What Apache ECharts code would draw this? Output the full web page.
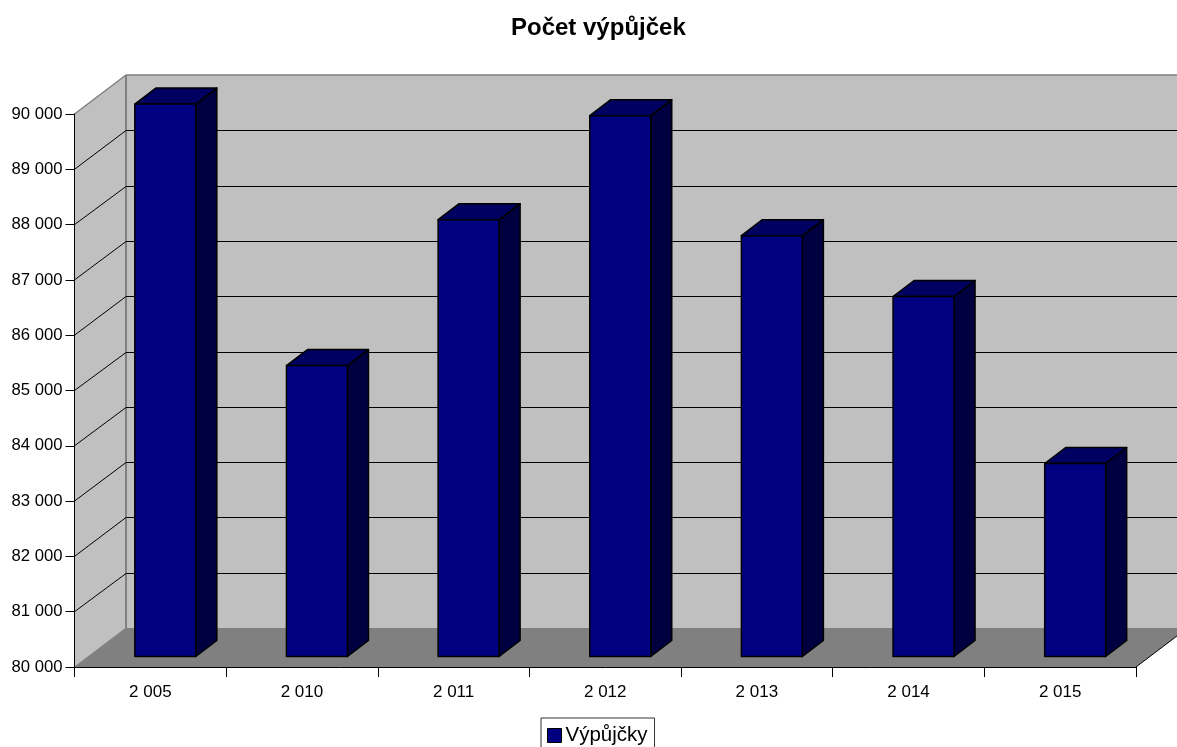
<!DOCTYPE html>
<html>
<head>
<meta charset="utf-8">
<style>html,body{margin:0;padding:0;background:#fff}#c{width:1177px;height:747px}</style>
<script src="https://cdn.jsdelivr.net/npm/echarts@6/dist/echarts.min.js"></script>
</head>
<body>
<div id="c"></div>
<script>
const categories = ['2 005','2 010','2 011','2 012','2 013','2 014','2 015'];
const loans = [89990, 85260, 87900, 89780, 87610, 86510, 83490];
const gridValues = [81000,82000,83000,84000,85000,86000,87000,88000,89000];
const yMin = 80000, yMax = 90000, yStep = 1000;
const seriesName = 'Výpůjčky';
const titleText = 'Počet výpůjček';

// oblique-projection constants (pixels)
const wallDX = 51.5, wallDY = -39;
const barInsetX = 15, barInsetY = -10.5, barDX = 21, barDY = -16, barW = 61;

const chart = echarts.init(document.getElementById('c'), null, {renderer:'canvas'});
const poly = (pts, fill, stroke, lw) => ({type:'polygon', shape:{points:pts},
  style:{fill:fill, stroke:stroke||null, lineWidth:lw||0, lineJoin:'round'}, silent:true});
const line = (a, b, stroke, lw) => ({type:'line',
  shape:{x1:a[0],y1:a[1],x2:b[0],y2:b[1]}, style:{stroke:stroke,lineWidth:lw||1,fill:null}, silent:true});

function renderWalls(params, api){
  const cs = params.coordSys;
  const x0 = cs.x, x1 = cs.x + cs.width;
  const yT = api.coord([0,yMax])[1], yB = api.coord([0,yMin])[1];
  const d = (p)=>[p[0]+wallDX,p[1]+wallDY];
  return {type:'group', children:[
    poly([d([x0,yT]),d([x1,yT]),d([x1,yB]),d([x0,yB])],'#c0c0c0'),
    poly([[x0,yT],d([x0,yT]),d([x0,yB]),[x0,yB]],'#c0c0c0'),
    poly([[x0,yB],[x1,yB],d([x1,yB]),d([x0,yB])],'#808080'),
    line([x0,yT],d([x0,yT]),'#808080',1.5),
    line(d([x0,yT]),d([x1,yT]),'#808080',1.5),
    line(d([x0,yT]),d([x0,yB]),'#808080',2),
    line([x0,yB],d([x0,yB]),'#808080',1),
    line([x1,yB],d([x1,yB]),'#000',1)
  ]};
}
function renderGrid(params, api){
  const cs = params.coordSys;
  const x0 = cs.x, x1 = cs.x + cs.width;
  const c = api.coord([0,api.value(0)])[1];
  const yBack = Math.round(c+wallDY)+0.5;
  return {type:'group', children:[
    line([x0,c],[x0+wallDX,yBack],'#000',1),
    line([x0+wallDX,yBack],[x1+wallDX,yBack],'#000',1)
  ]};
}
function renderBar(params, api){
  const c = api.coord([api.value(0),api.value(1)]);
  const b = api.coord([api.value(0),yMin]);
  const l = c[0]+barInsetX-barW/2, r = l+barW;
  const t = c[1]+barInsetY, bt = b[1]+barInsetY;
  const s = '#000';
  return {type:'group', children:[
    poly([[r,t],[r+barDX,t+barDY],[r+barDX,bt+barDY],[r,bt]],'#000040',s,1.5),
    poly([[l,t],[l+barDX,t+barDY],[r+barDX,t+barDY],[r,t]],'#000060',s,1.5),
    poly([[l,t],[r,t],[r,bt],[l,bt]],'#000080',s,1.5)
  ]};
}

const font = 'Liberation Sans, Arial, sans-serif';
chart.setOption({
  animation:false,
  backgroundColor:'#fff',
  title:{text:titleText,left:506,top:11,
    textStyle:{fontFamily:font,fontSize:24,fontWeight:'bold',color:'#000'}},
  legend:{data:[{name:seriesName,icon:'rect',itemStyle:{color:'#000080',borderColor:'#000',borderWidth:1}}],
    left:541,top:718,orient:'horizontal',itemWidth:14,itemHeight:14,itemGap:0,
    padding:[7,7,8,6],borderColor:'#333',borderWidth:1,selectedMode:false,
    textStyle:{fontFamily:font,fontSize:20.5,color:'#000',padding:[0,0,0,-1]}},
  grid:{left:74.5,right:41,top:114,bottom:80,containLabel:false},
  xAxis:{type:'category',data:categories,z:10,boundaryGap:true,
    axisLine:{show:true,lineStyle:{color:'#000',width:1}},
    axisTick:{show:true,length:10,alignWithLabel:false,lineStyle:{color:'#000',width:1}},
    axisLabel:{margin:17,fontFamily:font,fontSize:17,color:'#000',interval:0},
    splitLine:{show:false}},
  yAxis:{type:'value',min:yMin,max:yMax,interval:yStep,z:10,
    axisLine:{show:true,lineStyle:{color:'#000',width:1}},
    axisTick:{show:true,length:9,lineStyle:{color:'#000',width:1}},
    axisLabel:{margin:12,fontFamily:font,fontSize:16.7,color:'#000',padding:[5,0,0,0],
      formatter:v=>String(v).replace(/(\d+)(\d{3})$/,'$1 $2')},
    splitLine:{show:false}},
  series:[
    {type:'custom',name:'walls',silent:true,z:1,clip:false,coordinateSystem:'cartesian2d',
      data:[[0]],renderItem:renderWalls,encode:{x:0},tooltip:{show:false}},
    {type:'custom',name:'grid',silent:true,z:2,clip:false,coordinateSystem:'cartesian2d',
      data:gridValues.map(v=>[v]),renderItem:renderGrid,encode:{y:0}},
    {type:'custom',name:seriesName,z:3,clip:false,coordinateSystem:'cartesian2d',
      itemStyle:{color:'#000080'},
      data:loans.map((v,i)=>[i,v]),renderItem:renderBar,encode:{x:0,y:1}}
  ]
});
</script>
</body>
</html>
